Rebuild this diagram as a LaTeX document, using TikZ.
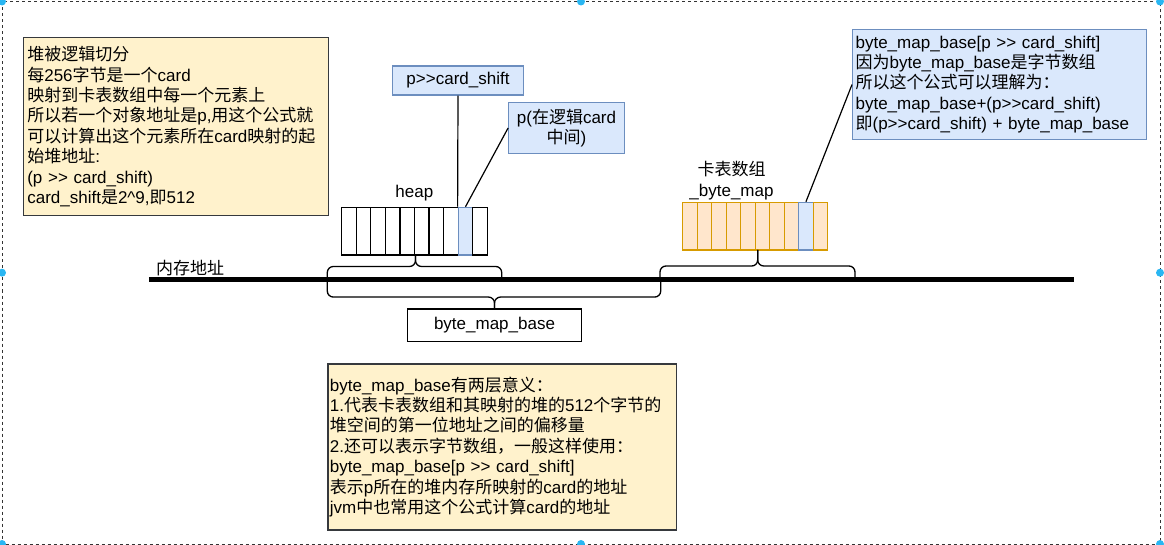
\documentclass[tikz,border=0pt]{standalone}
\usepackage{fontspec}
\setmainfont{Liberation Sans}
\newfontfamily\cjkfont{Noto Sans CJK SC}
\newfontfamily\latfont{Liberation Sans}
\usetikzlibrary{positioning}

% CJK characters pick their own font
\newcount\chcode
\XeTeXinterchartokenstate=1
\newXeTeXintercharclass\cjkcls
\chcode="3000
\loop \XeTeXcharclass\chcode=\cjkcls
\ifnum\chcode<"9FFF \advance\chcode 1 \repeat
\chcode="FF00
\loop \XeTeXcharclass\chcode=\cjkcls
\ifnum\chcode<"FFEF \advance\chcode 1 \repeat
\XeTeXinterchartoks 0 \cjkcls={\cjkfont}
\XeTeXinterchartoks 4095 \cjkcls={\cjkfont}
\XeTeXinterchartoks \cjkcls 0={\latfont}
\XeTeXinterchartoks 4095 0={\latfont}

\definecolor{notefill}{HTML}{FFF2CC}
\definecolor{notedraw}{HTML}{36393D}
\definecolor{bluefill}{HTML}{DAE8FC}
\definecolor{bluedraw}{HTML}{6C8EBF}
\definecolor{cardfill}{HTML}{FFE6CC}
\definecolor{carddraw}{HTML}{D79B00}
\definecolor{handle}{HTML}{29B6F2}

\begin{document}
\begin{tikzpicture}[x=1pt, y=-1pt, font=\fontsize{17}{20.4}\selectfont\latfont, line width=1.2pt,
  note/.style={draw=notedraw, fill=notefill, align=left, anchor=north west, inner xsep=4pt, inner ysep=0pt},
  tag/.style={draw=bluedraw, fill=bluefill, align=center, inner sep=0pt},
  cell/.style={minimum width=14.55pt, minimum height=47.7pt, inner sep=0pt},
  heapcell/.style={cell, draw=black, fill=white},
  cardcell/.style={cell, draw=carddraw, fill=cardfill},
  selcell/.style={cell, draw=bluedraw, fill=bluefill},
  brace/.style={rounded corners=6pt, line width=1.3pt}]
\useasboundingbox (0,0) rectangle (1164,545);
\draw[dash pattern=on 3pt off 3pt, draw=black!80, line width=1pt] (2,1.5) rectangle (1160,544);
\foreach \p in {(2,1.5),(581,1.5),(1160,1.5),(2,272.7),(1160,272.7),(2,544),(581,544),(1160,544)}
  \fill[handle] \p circle (4pt);

\node[note, text width=297.3pt, minimum height=178pt] (cardnote) at (22.7,37)
  {堆被逻辑切分\\每256字节是一个card\\映射到卡表数组中每一个元素上\\所以若一个对象地址是p,用这个公式就\\可以计算出这个元素所在card映射的起\\始堆地址:\\(p >> card\_shift)\\card\_shift是2\textasciicircum9,即512};
\node[tag, anchor=north west, align=left, text width=288pt, inner xsep=3pt, minimum height=110pt] (mapnote) at (852,29)
  {byte\_map\_base[p >> card\_shift]\\因为byte\_map\_base是字节数组\\所以这个公式可以理解为：\\byte\_map\_base+(p>>card\_shift)\\即(p>>card\_shift) + byte\_map\_base};
\node[note, inner xsep=2pt, text width=344.7pt, minimum height=166pt] (basenote) at (327.3,363.3)
  {byte\_map\_base有两层意义：\\1.代表卡表数组和其映射的堆的512个字节的\\堆空间的第一位地址之间的偏移量\\2.还可以表示字节数组，一般这样使用：\\byte\_map\_base[p >> card\_shift]\\表示p所在的堆内存所映射的card的地址\\jvm中也常用这个公式计算card的地址};

\node[tag, minimum width=130.6pt, minimum height=29pt] (shift) at (458,80.5) {p>>card\_shift};
\node[tag, minimum width=115.6pt, minimum height=50.6pt] (ptag) at (566.5,128) {p(在逻辑card\\中间)};
\node[draw=black, fill=white, minimum width=174.4pt, minimum height=32.7pt, inner sep=0pt] (base) at (494.5,325.3) {byte\_map\_base};

% heap and card table
\foreach \i in {0,...,9}{
  \ifnum\i=8 \def\hs{selcell}\else\def\hs{heapcell}\fi
  \ifnum\i=8 \def\cs{selcell}\else\def\cs{cardcell}\fi
  \node[\hs] (h\i) at (349+14.56*\i,231.2) {};
  \node[\cs] (c\i) at (689.95+14.5*\i,226.2) {};
}
\node (heaplbl) at (414.3,193.3) {heap};
\node[align=center] (cardlbl) at (731.5,180.7) {卡表数组\\\_byte\_map};
\node[anchor=west, inner sep=0pt] (memlbl) at (155.6,268.3) {内存地址};

\draw[line width=5pt] (148.8,279.7) -- (1073.5,279.7);

\draw (shift.south) -- (h8.north west);
\draw (ptag.west) -- (h8.north);
\draw (mapnote.west) -- (c8.north);

% braces
\coordinate (heaptip) at (415.5,255);
\coordinate (cardtip) at (757.7,250);
\draw[brace] (327.3,278) |- ([yshift=-11.5pt]heaptip) -- (heaptip);
\draw[brace] (501.7,278) |- ([yshift=-11.5pt]heaptip) -- (heaptip);
\draw[brace] (660,282) |- ([yshift=-16pt]cardtip) -- (cardtip);
\draw[brace] (855,278) |- ([yshift=-16pt]cardtip) -- (cardtip);
\draw[brace] (327.3,280) |- ([yshift=11.3pt]base.north) -- (base.north);
\draw[brace] (660.7,280) |- ([yshift=11.3pt]base.north) -- (base.north);
\end{tikzpicture}
\end{document}
